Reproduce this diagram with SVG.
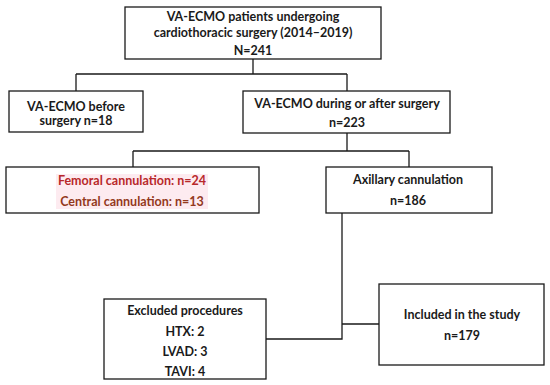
<svg xmlns="http://www.w3.org/2000/svg" width="550" height="385" viewBox="0 0 550 385">
<style>
.box{fill:#fff;stroke:#1a1a1a;stroke-width:1.3}
.t{font-family:Lato,"Open Sans","Liberation Sans",sans-serif;font-weight:bold;font-size:12.5px;fill:#1a1a1a;text-anchor:middle}
.red{fill:#b8282a}
.brown{fill:#93391c}
.hl{fill:#fdebf0}
.conn{fill:none;stroke:#1a1a1a;stroke-width:1.3}
</style>
<rect width="550" height="385" fill="#fff"/>
<g id="connectors">
<path class="conn" d="M253,59V74M76,74H347M76,74V91M347,74V91"/>
<path class="conn" d="M347,133V151M133,151H409M133,151V167M409,151V167"/>
<path class="conn" d="M342,213V339H266M342,324H379"/>
</g>
<g id="n1">
<rect class="box" x="125" y="7" width="256" height="52"/>
<text class="t" x="253" y="21">VA-ECMO patients undergoing</text>
<text class="t" x="253" y="37">cardiothoracic surgery (2014–2019)</text>
<text class="t" x="253" y="55">N=241</text>
</g>
<g id="n2">
<rect class="box" x="9" y="91" width="134" height="41"/>
<text class="t" x="76" y="111">VA-ECMO before</text>
<text class="t" x="76" y="125">surgery n=18</text>
</g>
<g id="n3">
<rect class="box" x="243" y="91" width="207" height="42"/>
<text class="t" x="347" y="108">VA-ECMO during or after surgery</text>
<text class="t" x="347" y="127">n=223</text>
</g>
<g id="n4">
<rect class="box" x="6" y="167" width="253" height="46"/>
<rect class="hl" x="56" y="174" width="152" height="35"/>
<text class="t red" x="132" y="185">Femoral cannulation: n=24</text>
<text class="t brown" x="132" y="206">Central cannulation: n=13</text>
</g>
<g id="n5">
<rect class="box" x="326" y="167" width="166" height="46"/>
<text class="t" x="408" y="184">Axillary cannulation</text>
<text class="t" x="408" y="205">n=186</text>
</g>
<g id="n6">
<rect class="box" x="104" y="299" width="162" height="80"/>
<text class="t" x="185" y="315">Excluded procedures</text>
<text class="t" x="185" y="336">HTX: 2</text>
<text class="t" x="185" y="356">LVAD: 3</text>
<text class="t" x="185" y="376">TAVI: 4</text>
</g>
<g id="n7">
<rect class="box" x="379" y="284" width="165" height="81"/>
<text class="t" x="462" y="319">Included in the study</text>
<text class="t" x="462" y="340">n=179</text>
</g>
</svg>
